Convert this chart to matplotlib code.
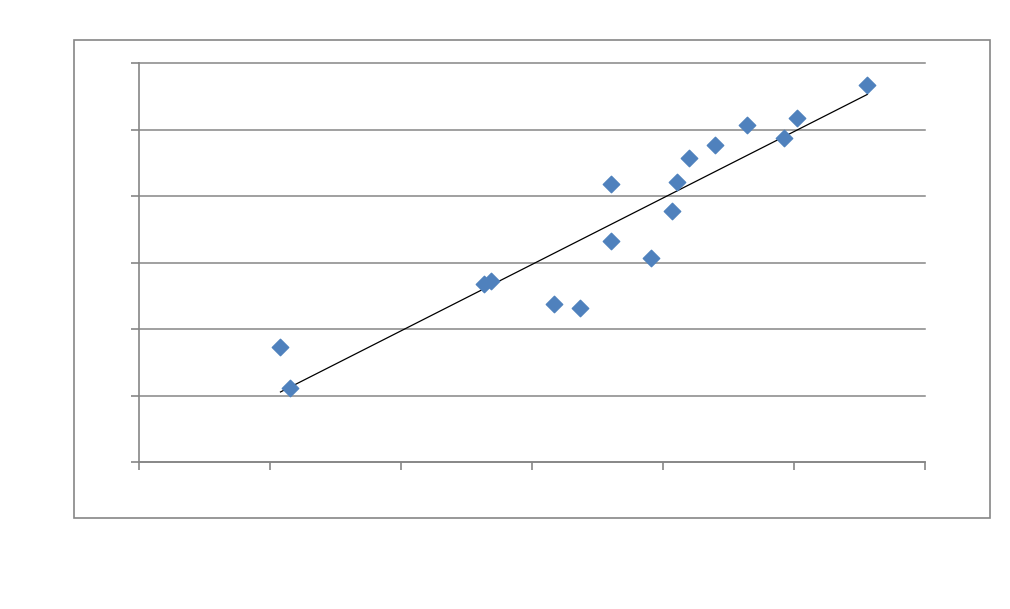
import matplotlib
matplotlib.use("Agg")
import matplotlib.pyplot as plt
from matplotlib.patches import Rectangle
import numpy as np

x_vals = [1.08, 1.15, 2.63, 2.69, 3.17, 3.37, 3.60, 3.60, 3.91, 4.07, 4.11, 4.20, 4.40, 4.64, 4.92, 5.02, 5.56]
y_vals = [1.73, 1.11, 2.68, 2.72, 2.38, 2.32, 4.18, 3.32, 3.07, 3.77, 4.21, 4.57, 4.77, 5.07, 4.87, 5.17, 5.67]
x_ticks = [0, 1, 2, 3, 4, 5, 6]
y_ticks = [0, 1, 2, 3, 4, 5, 6]

gray = "#868686"
fig = plt.figure(figsize=(10.1, 6.09), dpi=100)
fig.patches.append(Rectangle((74/1010, 1-518/609), (990-74)/1010, (518-40)/609,
                             transform=fig.transFigure, fill=False, edgecolor=gray, lw=1.2))
ax = fig.add_axes([139/1010, 1-462/609, (925-139)/1010, (462-63)/609])
ax.set_xlim(0, 6)
ax.set_ylim(0, 6)
ax.set_xticks(x_ticks)
ax.set_yticks(y_ticks)
ax.set_xticklabels([])
ax.set_yticklabels([])
ax.grid(axis="y", color=gray, lw=1.1)
for gl in ax.get_ygridlines():
    gl.set_clip_on(False)
ax.set_axisbelow(True)
for s in ["top", "right"]:
    ax.spines[s].set_visible(False)
for s in ["left", "bottom"]:
    ax.spines[s].set_color(gray)
    ax.spines[s].set_linewidth(1.2)
ax.tick_params(axis="both", color=gray, length=6, width=1.2, direction="out")

xa = np.array(x_vals); ya = np.array(y_vals)
m, b = np.polyfit(xa, ya, 1)
xl = np.array([xa.min(), xa.max()])
ax.plot(xl, m*xl + b, color="black", lw=0.9, zorder=2)
ax.scatter(xa, ya, marker="D", s=70, color="#4F81BD", edgecolors="#4F81BD", zorder=3, clip_on=False)

fig.savefig("out.png", dpi=100)
